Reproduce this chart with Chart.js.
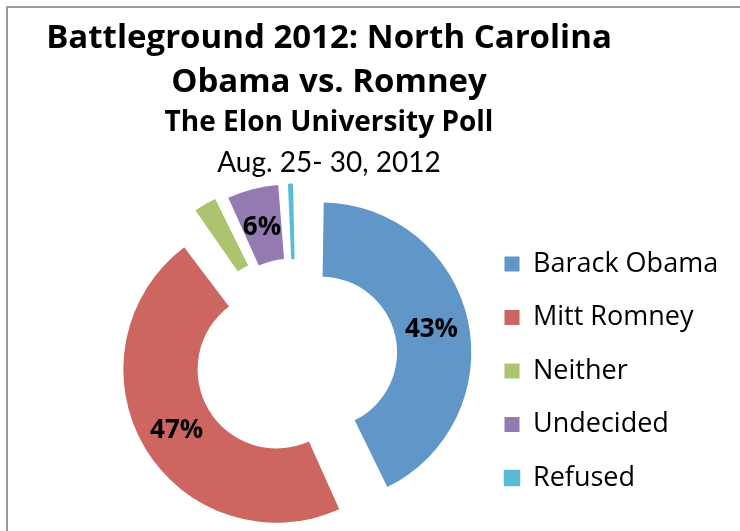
<!DOCTYPE html>
<html>
<head>
<meta charset="utf-8">
<title>Battleground 2012: North Carolina</title>
<script src="https://cdn.jsdelivr.net/npm/chart.js@4.4.1/dist/chart.umd.min.js"></script>
<style>
  html, body { margin: 0; padding: 0; background: #fff; overflow: hidden; }
  #wrap { position: relative; width: 740px; height: 531px; overflow: hidden; }
  #frame {
    position: absolute; left: 6px; top: 6px; width: 780px; height: 580px;
    border-top: 2px solid #9a9a9a; border-left: 2px solid #9a9a9a;
  }
  #chartBox { position: absolute; left: 0; top: 0; width: 740px; height: 531px; }
  #heading { position: absolute; left: 0; top: 0; width: 658px; color: #000; }
  #heading div { position: absolute; left: 0; width: 100%; text-align: center; line-height: 1.2; white-space: nowrap; }
  #heading .big { font-family: "Open Sans", sans-serif; font-size: 33px; font-weight: bold; }
  #heading .sub { font-family: "Open Sans", sans-serif; font-size: 28px; font-weight: bold; }
  #heading .date { font-family: Lato, sans-serif; font-size: 28px; font-weight: normal; }
</style>
</head>
<body>
<div id="wrap">
  <div id="frame"></div>
  <div id="chartBox"><canvas id="poll"></canvas></div>
  <div id="heading">
    <div class="big" style="top:15.5px">Battleground 2012: North Carolina</div>
    <div class="big" style="top:59.5px">Obama vs. Romney</div>
    <div class="sub" style="top:103.5px">The Elon University Poll</div>
    <div class="date" style="top:144.5px">Aug. 25- 30, 2012</div>
  </div>
</div>
<script>
const parties = ["Barack Obama", "Mitt Romney", "Neither", "Undecided", "Refused"];
const shares = [43, 47, 3, 6, 1];

const sliceColors = ["#6096c8", "#cd6661", "#abc46d", "#937ab1", "#5bbbd5"];
const legendFont = { family: "Open Sans", size: 27 };
const legendPad = 26.5;

// legend width depends on the longest label, so measure it to keep the boxes near x=505
const probe = document.createElement("canvas").getContext("2d");
probe.font = legendFont.size + "px '" + legendFont.family + "'";
const widest = Math.max(...parties.map((p) => probe.measureText(p).width));
const rightPad = 740 - 504.5 - 10 - 15 - legendFont.size / 2 - widest;

// percent labels on the bigger slices (Excel left the small ones blank)
const sliceLabels = {
  id: "sliceLabels",
  afterDatasetsDraw(chart) {
    const ctx = chart.ctx;
    const arcs = chart.getDatasetMeta(0).data;
    ctx.save();
    ctx.font = "bold 26px 'Open Sans'";
    ctx.fillStyle = "#000";
    ctx.textAlign = "center";
    ctx.textBaseline = "middle";
    arcs.forEach((arc, i) => {
      if (shares[i] < 5) return;
      const { x, y, startAngle, endAngle, innerRadius, outerRadius, circumference } =
        arc.getProps(["x", "y", "startAngle", "endAngle", "innerRadius", "outerRadius", "circumference"], true);
      // same push the arc element applies when it has an offset
      const shift = (arc.options.offset || 0) / 4;
      const grow = shift * (1 - Math.sin(Math.min(Math.PI, circumference)));
      const r = shift + grow + (innerRadius + outerRadius) / 2;
      const a = (startAngle + endAngle) / 2;
      ctx.fillText(shares[i] + "%", x + Math.cos(a) * r, y + Math.sin(a) * r + 2);
    });
    ctx.restore();
  },
};

new Chart(document.getElementById("poll"), {
  type: "doughnut",
  data: {
    labels: parties,
    datasets: [
      {
        data: shares,
        backgroundColor: sliceColors,
        borderColor: sliceColors,
        borderWidth: [0, 0, 0, 0, 1.5], // keeps the 1% sliver visible
        offset: [104, 90, 96, 96, 80],
      },
    ],
  },
  options: {
    responsive: true,
    maintainAspectRatio: false,
    animation: false,
    radius: 135,
    cutout: "45%",
    layout: { padding: { left: 114, right: rightPad, top: 185, bottom: 0 } },
    plugins: {
      legend: {
        position: "right",
        align: "start",
        // empty title only pushes the entries down
        title: { display: true, text: "", padding: { top: 29, bottom: 0 }, font: { size: 10, lineHeight: 1 } },
        labels: {
          boxWidth: 15,
          boxHeight: 15,
          padding: legendPad,
          color: "#000",
          font: legendFont,
        },
      },
      tooltip: { enabled: false },
    },
  },
  plugins: [sliceLabels],
});
</script>
</body>
</html>
